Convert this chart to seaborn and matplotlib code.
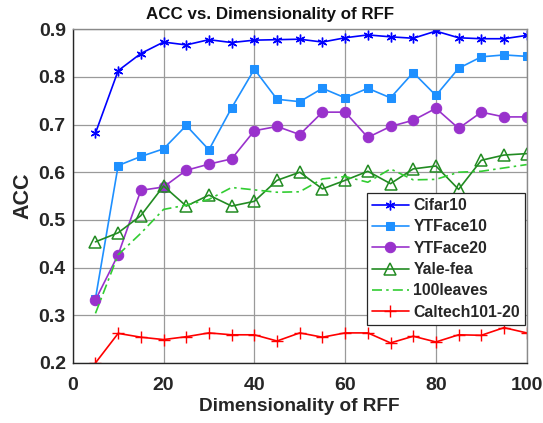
import numpy as np
import pandas as pd
import matplotlib
matplotlib.use("Agg")
import matplotlib.pyplot as plt
import seaborn as sns

dims = [5, 10, 15, 20, 25, 30, 35, 40, 45, 50, 55, 60, 65, 70, 75, 80, 85, 90, 95, 100]

cifar10 = [0.682, 0.813, 0.849, 0.873, 0.867, 0.878, 0.872, 0.877, 0.878, 0.879,
           0.873, 0.882, 0.888, 0.884, 0.881, 0.896, 0.882, 0.880, 0.880, 0.887]
ytface10 = [0.335, 0.614, 0.633, 0.649, 0.698, 0.647, 0.735, 0.816, 0.753, 0.748,
            0.776, 0.756, 0.776, 0.756, 0.809, 0.761, 0.818, 0.842, 0.846, 0.843]
ytface20 = [0.332, 0.427, 0.562, 0.569, 0.604, 0.617, 0.628, 0.687, 0.696, 0.679,
            0.726, 0.726, 0.673, 0.696, 0.709, 0.734, 0.692, 0.726, 0.716, 0.716]
yale_fea = [0.454, 0.473, 0.509, 0.571, 0.529, 0.552, 0.529, 0.539, 0.583, 0.600,
            0.565, 0.583, 0.602, 0.576, 0.607, 0.613, 0.564, 0.625, 0.636, 0.639]
leaves100 = [0.304, 0.427, 0.472, 0.522, 0.531, 0.543, 0.568, 0.563, 0.558, 0.559,
             0.586, 0.591, 0.579, 0.607, 0.584, 0.585, 0.600, 0.602, 0.609, 0.616]
caltech = [0.200, 0.262, 0.254, 0.249, 0.255, 0.263, 0.259, 0.259, 0.246, 0.263,
           0.254, 0.263, 0.263, 0.242, 0.256, 0.244, 0.259, 0.258, 0.274, 0.263]

names = ["Cifar10", "YTFace10", "YTFace20", "Yale-fea", "100leaves", "Caltech101-20"]
values = [cifar10, ytface10, ytface20, yale_fea, leaves100, caltech]
colors = ["#0000ff", "#1e90ff", "#9932cc", "#228b22", "#32cd32", "#ff0000"]

sns.set_style("white")
plt.rcParams["font.family"] = ["Liberation Sans", "DejaVu Sans"]
plt.rcParams["font.weight"] = "bold"

fig = plt.figure(figsize=(5.43, 4.23), dpi=100)
ax = fig.add_axes([0.134, 0.142, 0.836, 0.789])

styles = {
    "Cifar10": dict(marker=(6, 2, 0), markersize=7, markeredgewidth=1.0),
    "YTFace10": dict(marker="s", markersize=6),
    "YTFace20": dict(marker="o", markersize=7.5),
    "Yale-fea": dict(marker="^", markersize=8, markerfacecolor="none", markeredgewidth=1.1),
    "100leaves": dict(linestyle=(0, (6, 2.5, 1.5, 2.5))),
    "Caltech101-20": dict(marker="+", markersize=8, markeredgewidth=1.0),
}

for name, vals, col in zip(names, values, colors):
    df = pd.DataFrame({"dim": dims, "acc": vals})
    kw = dict(styles[name])
    if "marker" in kw:
        kw.setdefault("markerfacecolor", col)
        kw["markeredgecolor"] = col
    sns.lineplot(data=df, x="dim", y="acc", color=col, linewidth=1.2,
                 label=name, ax=ax, **kw)

ax.set_xlim(0, 100)
ax.set_ylim(0.2, 0.9)
ax.set_xticks(np.arange(0, 101, 20))
ax.set_yticks(np.arange(0.2, 0.91, 0.1))
ax.set_yticklabels([f"{t:.1f}" for t in np.arange(0.2, 0.91, 0.1)])
ax.grid(True, color="#9a9a9a", linewidth=0.9)
ax.set_axisbelow(True)
ax.tick_params(direction="in", length=4, labelsize=14, colors="#262626")
ax.tick_params(axis="x", pad=10)
ax.tick_params(axis="y", pad=5)
for lab in ax.get_xticklabels() + ax.get_yticklabels():
    lab.set_fontweight("bold")
for s in ["left", "bottom"]:
    ax.spines[s].set_color("#262626")
for s in ["top", "right"]:
    ax.spines[s].set_color("#8a8a8a")
for s in ax.spines.values():
    s.set_linewidth(1.0)

# title is centred on the figure, not the axes
fig.text(0.497, 0.966, "ACC vs. Dimensionality of RFF", fontsize=12.2,
         fontweight="bold", color="#111111", ha="center", va="center")
ax.set_xlabel("Dimensionality of RFF", fontsize=13.7, fontweight="bold",
              color="#262626", labelpad=3)
ax.set_ylabel("ACC", fontsize=15.5, fontweight="bold", color="#262626", labelpad=4)

leg = ax.legend(loc="upper left", bbox_to_anchor=(0.649, 0.508), fontsize=11.4,
                frameon=True, fancybox=False, framealpha=1, edgecolor="#262626",
                handlelength=2.3, borderpad=0.3, labelspacing=0.4,
                handletextpad=0.3, borderaxespad=0)
leg.get_frame().set_linewidth(0.9)
for t in leg.get_texts():
    t.set_fontweight("bold")

fig.savefig("out.png", dpi=100)
